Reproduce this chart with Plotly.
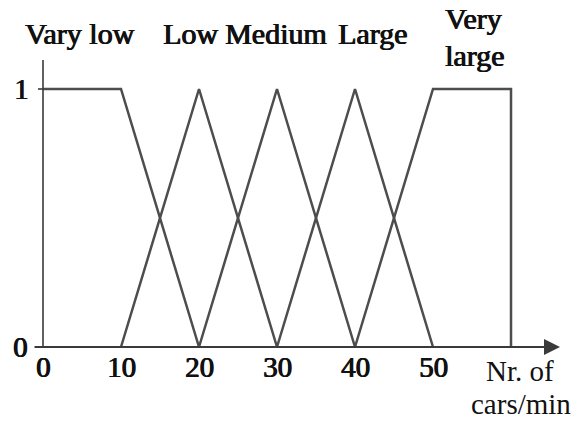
import plotly.graph_objects as go

# ---- data ----
sets = ["Vary low", "Low", "Medium", "Large", "Very large"]
very_low_x = [0, 10, 20]
very_low_y = [1, 1, 0]
low_x = [10, 20, 30]
low_y = [0, 1, 0]
medium_x = [20, 30, 40]
medium_y = [0, 1, 0]
large_x = [30, 40, 50]
large_y = [0, 1, 0]
very_large_x = [40, 50, 60, 60]
very_large_y = [0, 1, 1, 0]
x_ticks = [0, 10, 20, 30, 40, 50]
y_ticks = [0, 1]
x_title = ["Nr. of", "cars/min"]

# ---- pixel mapping helpers (layout only, page pixel coords) ----
W, H = 586, 424
X0PX, XSC = 43.0, 7.8      # px of x=0, px per unit
Y0PX, YSC = 347.0, 258.0   # px of y=0, px per unit


def px2x(px):
    return (px - X0PX) / XSC


def py2y(py):
    return (Y0PX - py) / YSC


LINE = "#4d4d4d"
AX = "#3a3a3a"
SERIF = "Liberation Serif"
FAKEBOLD = "0.7px 0 0 #111, -0.3px 0 0 #111"
BOLD = dict(family=SERIF, size=29, color="#111", shadow=FAKEBOLD)
LBL = dict(family=SERIF, size=30, color="#111", shadow=FAKEBOLD)

fig = go.Figure()
for xs, ys in [(very_low_x, very_low_y), (low_x, low_y), (medium_x, medium_y),
               (large_x, large_y), (very_large_x, very_large_y)]:
    fig.add_trace(go.Scatter(x=xs, y=ys, mode="lines",
                             line=dict(color=LINE, width=2.5),
                             hoverinfo="skip", showlegend=False, cliponaxis=False))

# y axis line
fig.add_shape(type="line", x0=0, x1=0, y0=0, y1=py2y(60),
              line=dict(color=AX, width=1.6))
# tick at y=1
fig.add_shape(type="line", x0=px2x(38), x1=0, y0=1, y1=1,
              line=dict(color=AX, width=1.6))

annotations = []
# x axis with arrow
annotations.append(dict(x=px2x(560), y=0, ax=px2x(33), ay=0, xref="x", yref="y",
                        axref="x", ayref="y", showarrow=True, arrowhead=2,
                        arrowsize=1.6, arrowwidth=2, arrowcolor=AX, text=""))

# tick labels
for v in x_ticks:
    annotations.append(dict(x=v, y=py2y(367), text=str(v), showarrow=False,
                            xanchor="center", yanchor="middle", font=BOLD))
y_label_px = {1: 21, 0: 20}
for v in y_ticks:
    annotations.append(dict(x=px2x(y_label_px[v]), y=v, text=str(v), showarrow=False,
                            xanchor="center", yanchor="middle", font=BOLD))

# set labels (multi-word last label wrapped onto two lines)
label_pos = [[(79, 33)], [(190, 33)], [(276, 33)], [(372, 33)], [(473, 18), (474, 55)]]
for name, pos in zip(sets, label_pos):
    parts = name.split(" ") if len(pos) > 1 else [name]
    for part, (px, py) in zip(parts, pos):
        annotations.append(dict(x=px2x(px), y=py2y(py), text=part,
                                showarrow=False, xanchor="center", yanchor="middle",
                                font=LBL))

# axis title
title_pos = [(520, 371), (521, 404)]
for part, (px, py) in zip(x_title, title_pos):
    annotations.append(dict(x=px2x(px), y=py2y(py), text=part,
                            showarrow=False, xanchor="center", yanchor="middle",
                            font=dict(family=SERIF, size=29, color="#111")))

fig.update_layout(
    width=W, height=H, margin=dict(l=0, r=0, t=0, b=0),
    paper_bgcolor="white", plot_bgcolor="white",
    xaxis=dict(range=[px2x(0), px2x(W)], visible=False, fixedrange=True),
    yaxis=dict(range=[py2y(H), py2y(0)], visible=False, fixedrange=True),
    annotations=annotations,
)
fig.write_html("out.html", config={"displayModeBar": False},
               post_script="document.body.style.margin='0px';")
